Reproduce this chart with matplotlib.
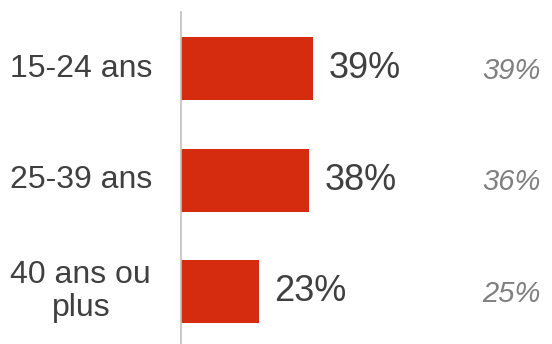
import matplotlib.pyplot as plt

categories = ['15-24 ans', '25-39 ans', '40 ans ou\nplus']
values = [39, 38, 23]
previous = [39, 36, 25]

plt.rcParams['font.family'] = ['Liberation Sans', 'DejaVu Sans']

fig = plt.figure(figsize=(5.52, 3.44), dpi=100)
ax = fig.add_axes([181 / 552, 0, 371 / 552, 332 / 344])

pos = range(len(values))
ax.barh(pos, values, height=0.565, color='#d52b0e')
ax.set_xlim(0, 371 / 3.38)
ax.set_ylim(2.47, -0.507)

for i, v in enumerate(values):
    ax.text(v + 4.6, i, f'{v}%', va='center', ha='left', fontsize=26, color='#404040')
    ax.text(97.8, i + 0.02, f'{previous[i]}%', va='center', ha='center', fontsize=21,
            color='#808080', style='italic')
    ax.text(-0.27, i, categories[i], transform=ax.get_yaxis_transform(),
            va='center', ha='center', fontsize=23, color='#404040',
            linespacing=1.12, multialignment='center')

ax.set_xticks([])
ax.set_yticks([])
for side in ['top', 'right', 'bottom']:
    ax.spines[side].set_visible(False)
ax.spines['left'].set_color('#bfbfbf')
ax.spines['left'].set_linewidth(1.2)

fig.savefig('out.png', dpi=100)
